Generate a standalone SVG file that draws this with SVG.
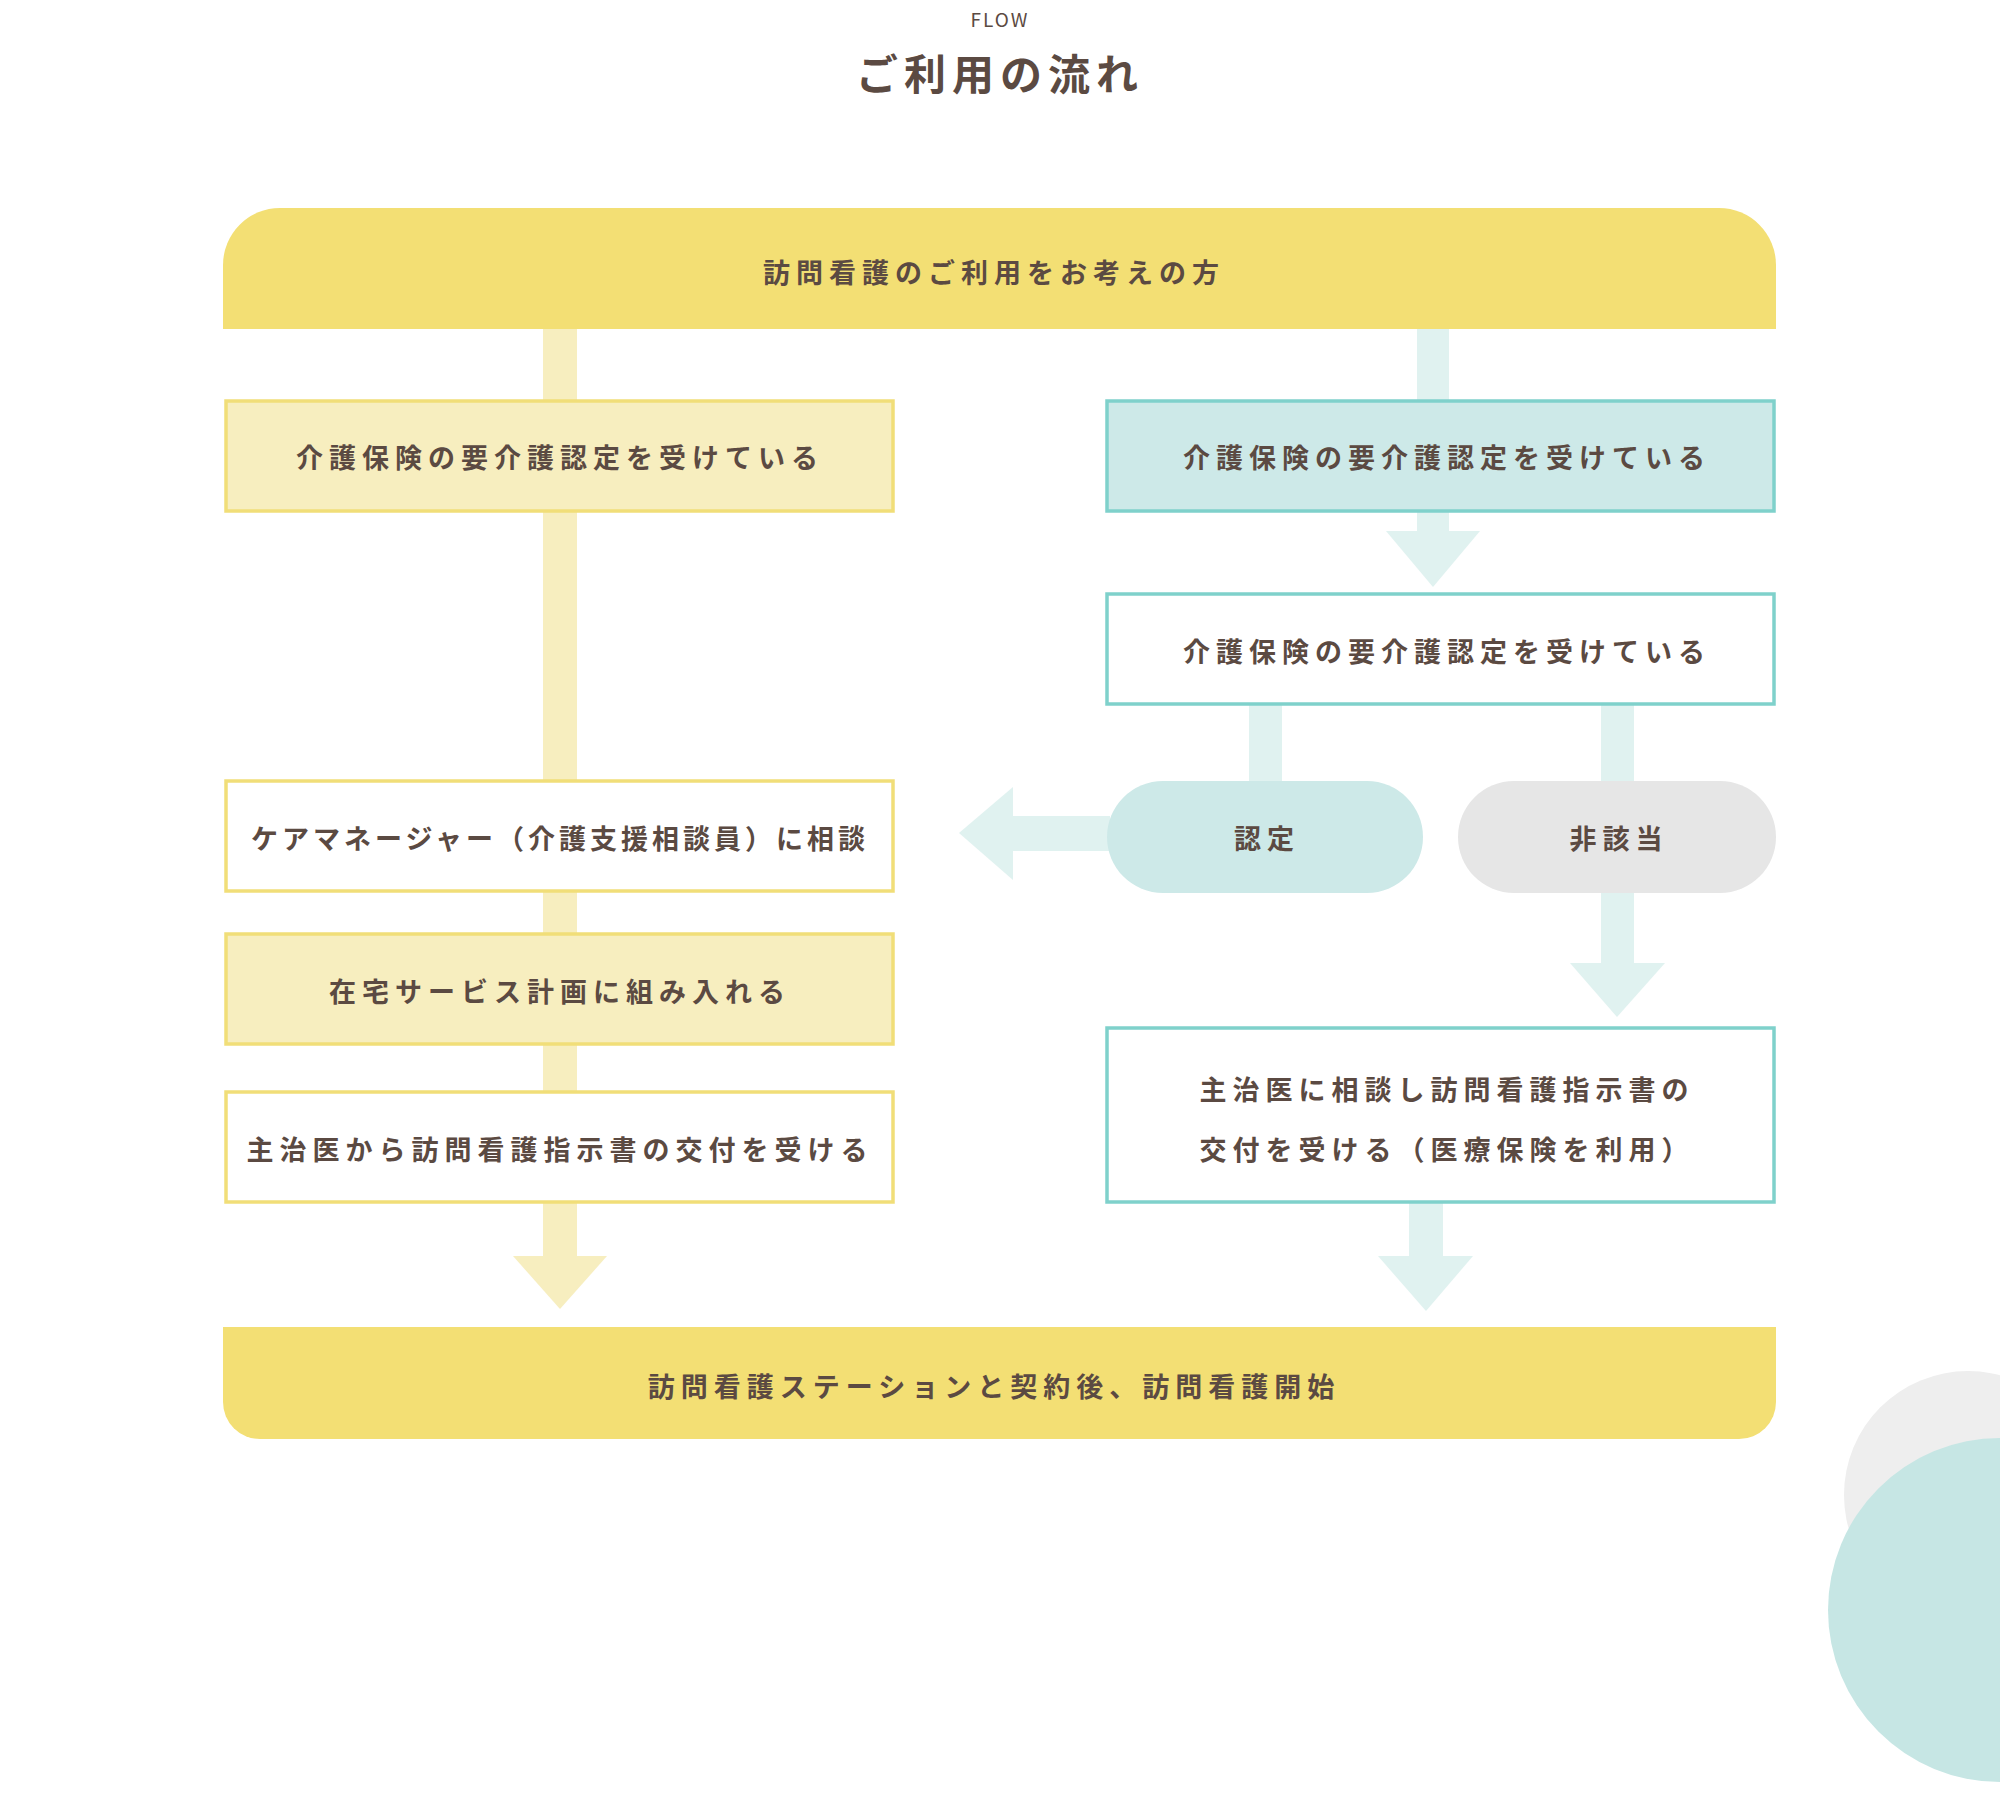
<svg xmlns="http://www.w3.org/2000/svg" width="2000" height="1817" viewBox="0 0 2000 1817">
<style>
text{font-family:"Noto Sans CJK JP","Noto Sans",sans-serif;fill:#5b4a42;font-weight:bold;text-anchor:middle;dominant-baseline:central}
.t{font-size:27px;letter-spacing:6px}
.y{fill:#f7eebf}
.c{fill:#e0f2f0}
.by{fill:#f7eebf;stroke:#f1de78;stroke-width:3.5}
.wy{fill:#fff;stroke:#f1de78;stroke-width:3.5}
.bc{fill:#cde9e8;stroke:#7fd1cb;stroke-width:3.5}
.wc{fill:#fff;stroke:#7fd1cb;stroke-width:3.5}
</style>
<circle cx="1968" cy="1495" r="124" fill="#eeeeee"/>
<circle cx="2000" cy="1610" r="172" fill="#c6e6e4"/>
<text x="1000" y="18" style="font-size:19px;font-weight:normal;letter-spacing:2px">FLOW</text>
<text x="1000" y="71" style="font-size:42px;letter-spacing:6px">ご利用の流れ</text>
<g id="connectors">
<rect class="y" x="543" y="329" width="34" height="930"/>
<polygon class="y" points="513,1256 607,1256 560,1309"/>
<rect class="c" x="1417" y="329" width="32" height="204"/>
<polygon class="c" points="1386,531 1480,531 1433,587"/>
<rect class="c" x="1249" y="704" width="33" height="80"/>
<rect class="c" x="1601" y="704" width="33" height="262"/>
<polygon class="c" points="1570,963 1665,963 1617,1017"/>
<rect class="c" x="1010" y="816" width="100" height="35"/>
<polygon class="c" points="959,833 1013,787 1013,880"/>
<rect class="c" x="1409" y="1202" width="34" height="56"/>
<polygon class="c" points="1378,1256 1473,1256 1426,1311"/>
</g>
<g id="start"><path d="M223,329 V265 A57,57 0 0 1 280,208 H1719 A57,57 0 0 1 1776,265 V329 Z" fill="#f3df74"/><text class="t" x="994" y="271">訪問看護のご利用をお考えの方</text></g>
<g id="l1"><rect class="by" x="226" y="401" width="667" height="110"/><text class="t" x="560" y="456">介護保険の要介護認定を受けている</text></g>
<g id="r1"><rect class="bc" x="1107" y="401" width="667" height="110"/><text class="t" x="1447" y="456">介護保険の要介護認定を受けている</text></g>
<g id="r2"><rect class="wc" x="1107" y="594" width="667" height="110"/><text class="t" x="1447" y="650">介護保険の要介護認定を受けている</text></g>
<g id="nintei"><rect x="1107" y="781" width="316" height="112" rx="56" fill="#cde9e8"/><text class="t" x="1267" y="837">認定</text></g>
<g id="higaitou"><rect x="1458" y="781" width="318" height="112" rx="56" fill="#e6e6e6"/><text class="t" x="1619" y="837">非該当</text></g>
<g id="l2"><rect class="wy" x="226" y="781" width="667" height="110"/><text class="t" x="560" y="837" style="letter-spacing:4px">ケアマネージャー（介護支援相談員）に相談</text></g>
<g id="l3"><rect class="by" x="226" y="934" width="667" height="110"/><text class="t" x="560" y="990">在宅サービス計画に組み入れる</text></g>
<g id="l4"><rect class="wy" x="226" y="1092" width="667" height="110"/><text class="t" x="560" y="1148">主治医から訪問看護指示書の交付を受ける</text></g>
<g id="r3"><rect class="wc" x="1107" y="1028" width="667" height="174"/><text class="t" x="1447" y="1088">主治医に相談し訪問看護指示書の</text><text class="t" x="1447" y="1148">交付を受ける（医療保険を利用）</text></g>
<g id="end"><path d="M223,1327 H1776 V1402 A37,37 0 0 1 1739,1439 H260 A37,37 0 0 1 223,1402 Z" fill="#f3df74"/><text class="t" x="994" y="1385">訪問看護ステーションと契約後、訪問看護開始</text></g>
</svg>
